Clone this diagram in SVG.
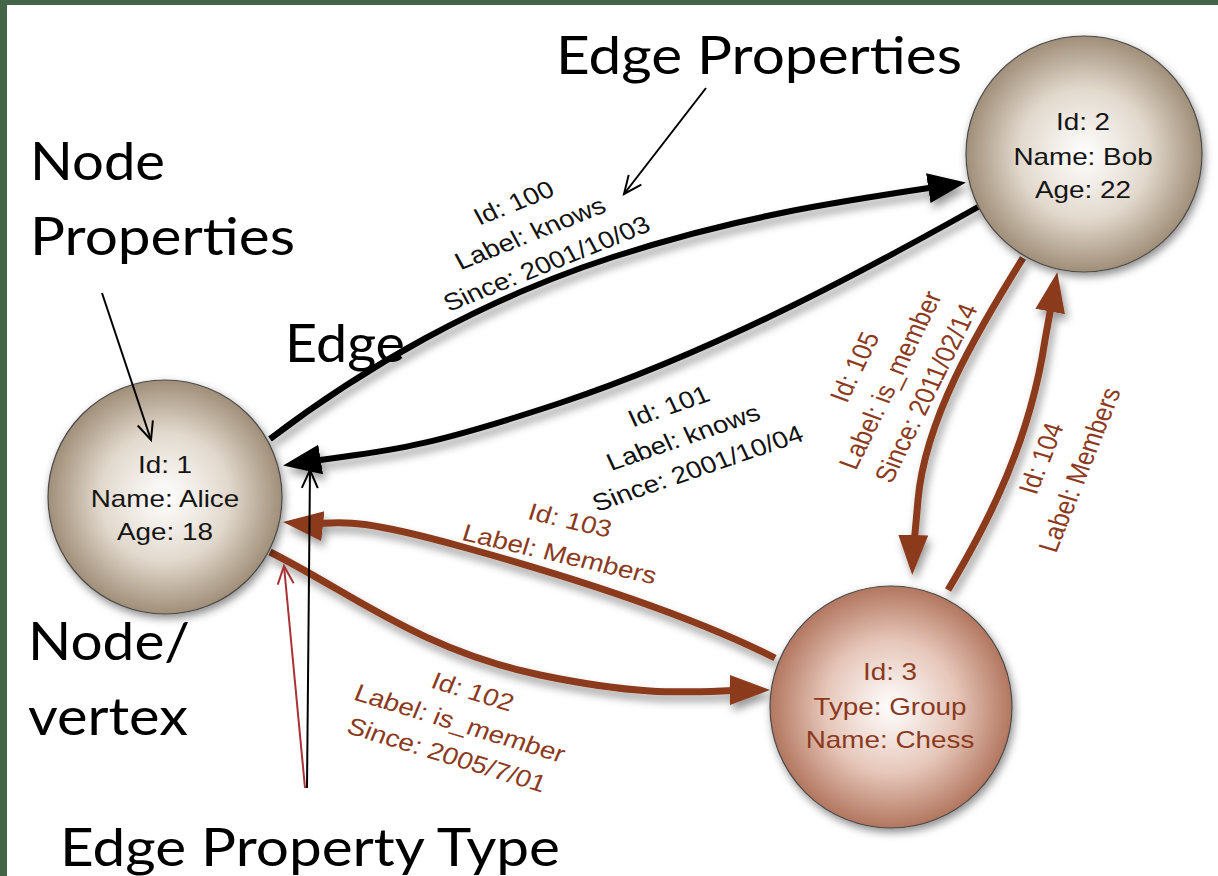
<svg xmlns="http://www.w3.org/2000/svg" width="1218" height="876" viewBox="0 0 1218 876">
  <style>
    .big { font-family: Lato, "Open Sans", sans-serif; font-size: 53px; fill: #000; }
    .nodeText { font-family: "Liberation Sans", Arial, sans-serif; font-size: 24px; fill: #151515; text-anchor: middle; }
    .lblBlack { font-family: "Liberation Sans", Arial, sans-serif; font-size: 24px; fill: #111; text-anchor: middle; }
    .lblBrown { font-family: "Liberation Sans", Arial, sans-serif; font-size: 24px; fill: #8b3a1e; text-anchor: middle; }
    .edgeBlack { fill: none; stroke: #000; stroke-width: 6; }
    .edgeBrown { fill: none; stroke: #8b3a1e; stroke-width: 7; }
    .note { fill: none; stroke: #000; stroke-width: 2; }
    .noteRed { fill: none; stroke: #a83236; stroke-width: 2; }
    .circle { stroke: #4a4a4a; stroke-width: 1.2; }
  </style>
  <defs>
    <radialGradient id="tan" cx="50%" cy="50%" r="50%">
      <stop offset="0" stop-color="#ffffff"/>
      <stop offset="0.55" stop-color="#e2d9cd"/>
      <stop offset="1" stop-color="#a08e78"/>
    </radialGradient>
    <radialGradient id="rose" cx="50%" cy="50%" r="50%">
      <stop offset="0" stop-color="#ffffff"/>
      <stop offset="0.55" stop-color="#e6c6b9"/>
      <stop offset="1" stop-color="#b2765f"/>
    </radialGradient>
    <filter id="shadow" x="-20%" y="-20%" width="140%" height="140%">
      <feDropShadow dx="3" dy="6" stdDeviation="4.5" flood-color="#000" flood-opacity="0.4"/>
    </filter>
    <filter id="nodeShadow" x="-20%" y="-20%" width="140%" height="140%">
      <feDropShadow dx="2" dy="4" stdDeviation="4" flood-color="#000" flood-opacity="0.45"/>
    </filter>
    <marker id="headBlack" markerUnits="userSpaceOnUse" markerWidth="42" markerHeight="32" refX="28" refY="15" orient="auto">
      <path d="M0,0 L38,15 L0,30 z" fill="#000"/>
    </marker>
    <marker id="headBrown" markerUnits="userSpaceOnUse" markerWidth="44" markerHeight="32" refX="30" refY="15" orient="auto">
      <path d="M0,0 L40,15 L0,30 z" fill="#8b3a1e"/>
    </marker>
    <marker id="openBlack" markerUnits="userSpaceOnUse" markerWidth="24" markerHeight="24" refX="20" refY="12" orient="auto">
      <path d="M2,4 L20,12 L2,20" fill="none" stroke="#000" stroke-width="2"/>
    </marker>
    <marker id="openRed" markerUnits="userSpaceOnUse" markerWidth="24" markerHeight="24" refX="20" refY="12" orient="auto">
      <path d="M2,4 L20,12 L2,20" fill="none" stroke="#a83236" stroke-width="2"/>
    </marker>
  </defs>

  <rect x="0" y="0" width="1218" height="876" fill="#ffffff"/>
  <!-- frame edges -->
  <rect x="0" y="0" width="1218" height="5" fill="#436648"/>
  <rect x="0" y="0" width="7" height="876" fill="#436648"/>

  <!-- connectors -->
  <g id="connectors" filter="url(#shadow)">
    <path id="e100" class="edgeBlack" d="M270,439 C360,370 480,300 613,257 S850,200 956,184" marker-end="url(#headBlack)"/>
    <path id="e101" class="edgeBlack" d="M978,207 C880,262 720,350 560,403 S380,450 293,464" marker-end="url(#headBlack)"/>
    <path id="e103" class="edgeBrown" d="M775,658 C700,620 600,585 463,547 S340,528 293,523" marker-end="url(#headBrown)"/>
    <path id="e102" class="edgeBrown" d="M270,552 C350,592 420,650 540,675 S700,690 760,690" marker-end="url(#headBrown)"/>
    <path id="e105" class="edgeBrown" d="M1023,258 C975,335 925,420 918,500 S913,545 912.5,565" marker-end="url(#headBrown)"/>
    <path id="e104" class="edgeBrown" d="M948,590 C990,520 1030,440 1045,340 L1055.5,282" marker-end="url(#headBrown)"/>
  </g>

  <!-- edge labels -->
  <g id="label-100" transform="translate(530,233) scale(1.16,1) rotate(-25)">
    <text x="0" y="-25" class="lblBlack">Id: 100</text>
    <text x="0" y="8.5" class="lblBlack">Label: knows</text>
    <text x="0" y="42" class="lblBlack">Since: 2001/10/03</text>
  </g>
  <g id="label-101" transform="translate(683,437) scale(1.16,1) rotate(-21.8)">
    <text x="0" y="-25" class="lblBlack">Id: 101</text>
    <text x="0" y="8.5" class="lblBlack">Label: knows</text>
    <text x="0" y="42" class="lblBlack">Since: 2001/10/04</text>
  </g>
  <g id="label-103" transform="translate(565,537) scale(1.16,1) rotate(15)">
    <text x="0" y="-9" class="lblBrown">Id: 103</text>
    <text x="0" y="26" class="lblBrown">Label: Members</text>
  </g>
  <g id="label-102" transform="translate(460,723) scale(1.16,1) rotate(19.5)">
    <text x="0" y="-25" class="lblBrown">Id: 102</text>
    <text x="0" y="8.5" class="lblBrown">Label: is_member</text>
    <text x="0" y="42" class="lblBrown">Since: 2005/7/01</text>
  </g>
  <g id="label-105" transform="translate(890,380) scale(1.16,1) rotate(-67)">
    <text x="0" y="-25" class="lblBrown">Id: 105</text>
    <text x="0" y="8.5" class="lblBrown">Label: is_member</text>
    <text x="0" y="42" class="lblBrown">Since: 2011/02/14</text>
  </g>
  <g id="label-104" transform="translate(1060,464) scale(1.16,1) rotate(-71)">
    <text x="0" y="-9" class="lblBrown">Id: 104</text>
    <text x="0" y="26" class="lblBrown">Label: Members</text>
  </g>

  <!-- nodes -->
  <g id="node-alice">
    <circle class="circle" cx="165" cy="497" r="117" fill="url(#tan)" filter="url(#nodeShadow)"/>
    <g transform="translate(165,497) scale(1.16,1)">
      <text x="0" y="-24" class="nodeText">Id: 1</text>
      <text x="0" y="10" class="nodeText">Name: Alice</text>
      <text x="0" y="43" class="nodeText">Age: 18</text>
    </g>
  </g>
  <g id="node-bob">
    <circle class="circle" cx="1084" cy="154" r="118" fill="url(#tan)" filter="url(#nodeShadow)"/>
    <g transform="translate(1083,154) scale(1.16,1)">
      <text x="0" y="-24" class="nodeText">Id: 2</text>
      <text x="0" y="11" class="nodeText">Name: Bob</text>
      <text x="0" y="44" class="nodeText">Age: 22</text>
    </g>
  </g>
  <g id="node-chess">
    <circle class="circle" cx="891" cy="707" r="121" fill="url(#rose)" filter="url(#nodeShadow)"/>
    <g transform="translate(890,707) scale(1.16,1)">
      <text x="0" y="-27" class="nodeText" style="fill:#8b3a1e">Id: 3</text>
      <text x="0" y="8" class="nodeText" style="fill:#8b3a1e">Type: Group</text>
      <text x="0" y="41" class="nodeText" style="fill:#8b3a1e">Name: Chess</text>
    </g>
  </g>

  <!-- annotations -->
  <g id="annotations">
    <text class="big" x="556" y="74" textLength="406" lengthAdjust="spacingAndGlyphs">Edge Properties</text>
    <text class="big" x="30" y="180" textLength="135" lengthAdjust="spacingAndGlyphs">Node</text>
    <text class="big" x="30" y="255" textLength="265" lengthAdjust="spacingAndGlyphs">Properties</text>
    <text class="big" x="285" y="362" textLength="120" lengthAdjust="spacingAndGlyphs">Edge</text>
    <text class="big" x="28" y="660" textLength="162" lengthAdjust="spacingAndGlyphs">Node/</text>
    <text class="big" x="28" y="735" textLength="160" lengthAdjust="spacingAndGlyphs">vertex</text>
    <text class="big" x="60" y="866" textLength="500" lengthAdjust="spacingAndGlyphs">Edge Property Type</text>
    <path class="note" d="M706,88 L624,194" marker-end="url(#openBlack)"/>
    <path class="note" d="M102,293 L151,440" marker-end="url(#openBlack)"/>
    <path class="note" d="M307,788 L310,470" marker-end="url(#openBlack)"/>
    <path class="noteRed" d="M305,788 L284,566" marker-end="url(#openRed)"/>
  </g>
</svg>
